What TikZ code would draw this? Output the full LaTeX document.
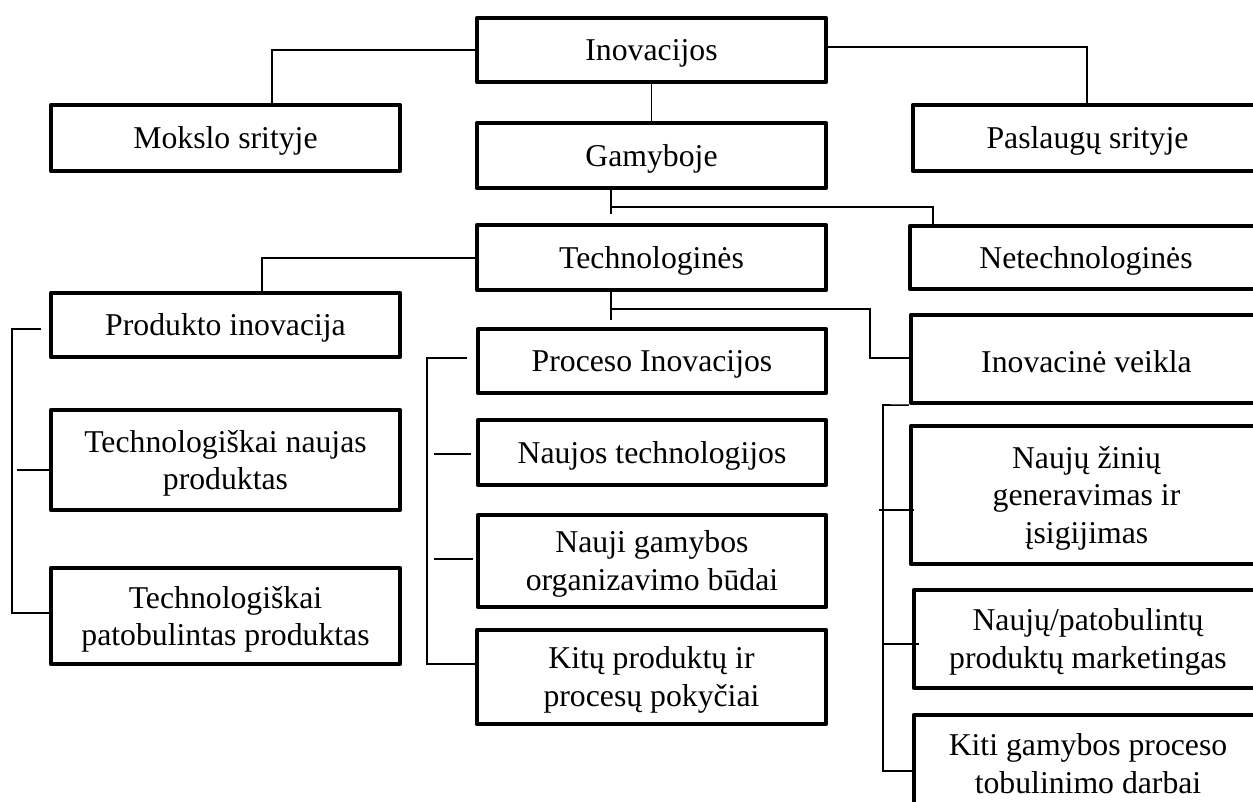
\documentclass[tikz,border=0pt]{standalone}
\usepackage{fontspec}
\setmainfont{Liberation Serif}
% a framed box spanning the rectangle (#2,#3)-(#4,#5), given in pixel units,
% with its caption set slightly below the centre
\newcommand{\chartbox}[6]{%
  \pgfmathsetmacro{\boxwd}{(#4-#2)*0.75}%
  \pgfmathsetmacro{\boxht}{(#5-#3)*0.75}%
  \node[box, minimum width=\boxwd pt, minimum height=\boxht pt] (#1)
    at ({(#2+#4)/2},{(#3+#5)/2}) {};
  \node[caption] (#1-text) at (#1.center) {#6};}
\begin{document}
\begin{tikzpicture}[x=0.75pt,y=-0.75pt,
  box/.style={draw, line width=3.2pt, line join=round, inner sep=0pt},
  caption/.style={inner sep=0pt, align=center, yshift=-2.3pt,
    font=\fontsize{23.8pt}{28.1pt}\selectfont},
  link/.style={line width=1.2pt}]
\path[use as bounding box] (0,0) rectangle (1253,801);
\clip (0,0) rectangle (1253,801);

% boxes
\chartbox{ino}{477}{18}{826}{82}{Inovacijos}
\chartbox{mok}{51}{105}{400}{171}{Mokslo srityje}
\chartbox{pas}{913}{105}{1262}{171}{Paslaugų srityje}
\chartbox{gam}{477}{123}{826}{188}{Gamyboje}
\chartbox{tech}{477}{225}{826}{290}{Technologinės}
\chartbox{net}{910}{226}{1262}{289}{Netechnologinės}
\chartbox{prod}{51}{293}{400}{357}{Produkto inovacija}
\chartbox{proc}{478}{329}{826}{393}{Proceso Inovacijos}
\chartbox{inv}{911}{315}{1262}{403}{Inovacinė veikla}
\chartbox{tnp}{51}{410}{400}{510}{Technologiškai naujas\\produktas}
\chartbox{ntech}{478}{420}{826}{485}{Naujos technologijos}
\chartbox{ngam}{478}{515}{826}{607}{Nauji gamybos\\organizavimo būdai}
\chartbox{tpp}{51}{568}{400}{664}{Technologiškai\\patobulintas produktas}
\chartbox{kitu}{477}{630}{826}{724}{Kitų produktų ir\\procesų pokyčiai}
\chartbox{nzin}{911}{426}{1262}{564}{Naujų žinių\\generavimas ir\\įsigijimas}
\chartbox{nprod}{914}{590}{1262}{688}{Naujų/patobulintų\\produktų marketingas}
\chartbox{kiti}{914}{715}{1262}{806}{Kiti gamybos proceso\\tobulinimo darbai}

% top level
\coordinate (jm) at (272,50);
\coordinate (jp) at (1087,47);
\draw[link] (ino.west) -- (jm) -- (mok.north -| jm);
\draw[link] (ino.east |- jp) -- (jp) -- (pas.north -| jp);
\draw[link] (ino.south) -- (gam.north);

% production
\coordinate (ga) at (611,214);
\coordinate (gb) at (933,207);
\draw[link] (gam.south -| ga) -- (ga);
\draw[link] (ga |- gb) -- (gb) -- (net.north -| gb);

% technological
\coordinate (tp) at (262,258);
\draw[link] (tech.west |- tp) -- (tp) -- (prod.north -| tp);
\coordinate (ta) at (611,320);
\coordinate (tb) at (870,309);
\coordinate (tc) at (870,358);
\draw[link] (tech.south -| ta) -- (ta);
\draw[link] (ta |- tb) -- (tb) -- (tc) -- (inv.west |- tc);

% product branch
\coordinate (pa) at (41,329);
\coordinate (pb) at (12,329);
\coordinate (pc) at (12,613);
\coordinate (pd) at (17,470);
\draw[link] (pa) -- (pb) -- (pc) -- (tpp.west |- pc);
\draw[link] (pd) -- (tnp.west |- pd);

% process branch
\coordinate (qa) at (467,358);
\coordinate (qb) at (427,358);
\coordinate (qc) at (427,664);
\draw[link] (qa) -- (qb) -- (qc) -- (kitu.west |- qc);
\coordinate (qd) at (434,454);
\coordinate (qe) at (471,454);
\coordinate (qf) at (434,559);
\coordinate (qg) at (473,559);
\draw[link] (qd) -- (qe);
\draw[link] (qf) -- (qg);

% innovation activity branch
\coordinate (ra) at (883,405);
\coordinate (rb) at (883,771);
\draw[link] (inv.south west) -- (ra) -- (rb) -- (kiti.west |- rb);
\coordinate (rc) at (879,510);
\coordinate (rd) at (883,644);
\draw[link] (rc) -- (nzin.west |- rc) -- ++(5,0);
\draw[link] (rd) -- (nprod.west |- rd) -- ++(7,0);
\end{tikzpicture}
\end{document}
